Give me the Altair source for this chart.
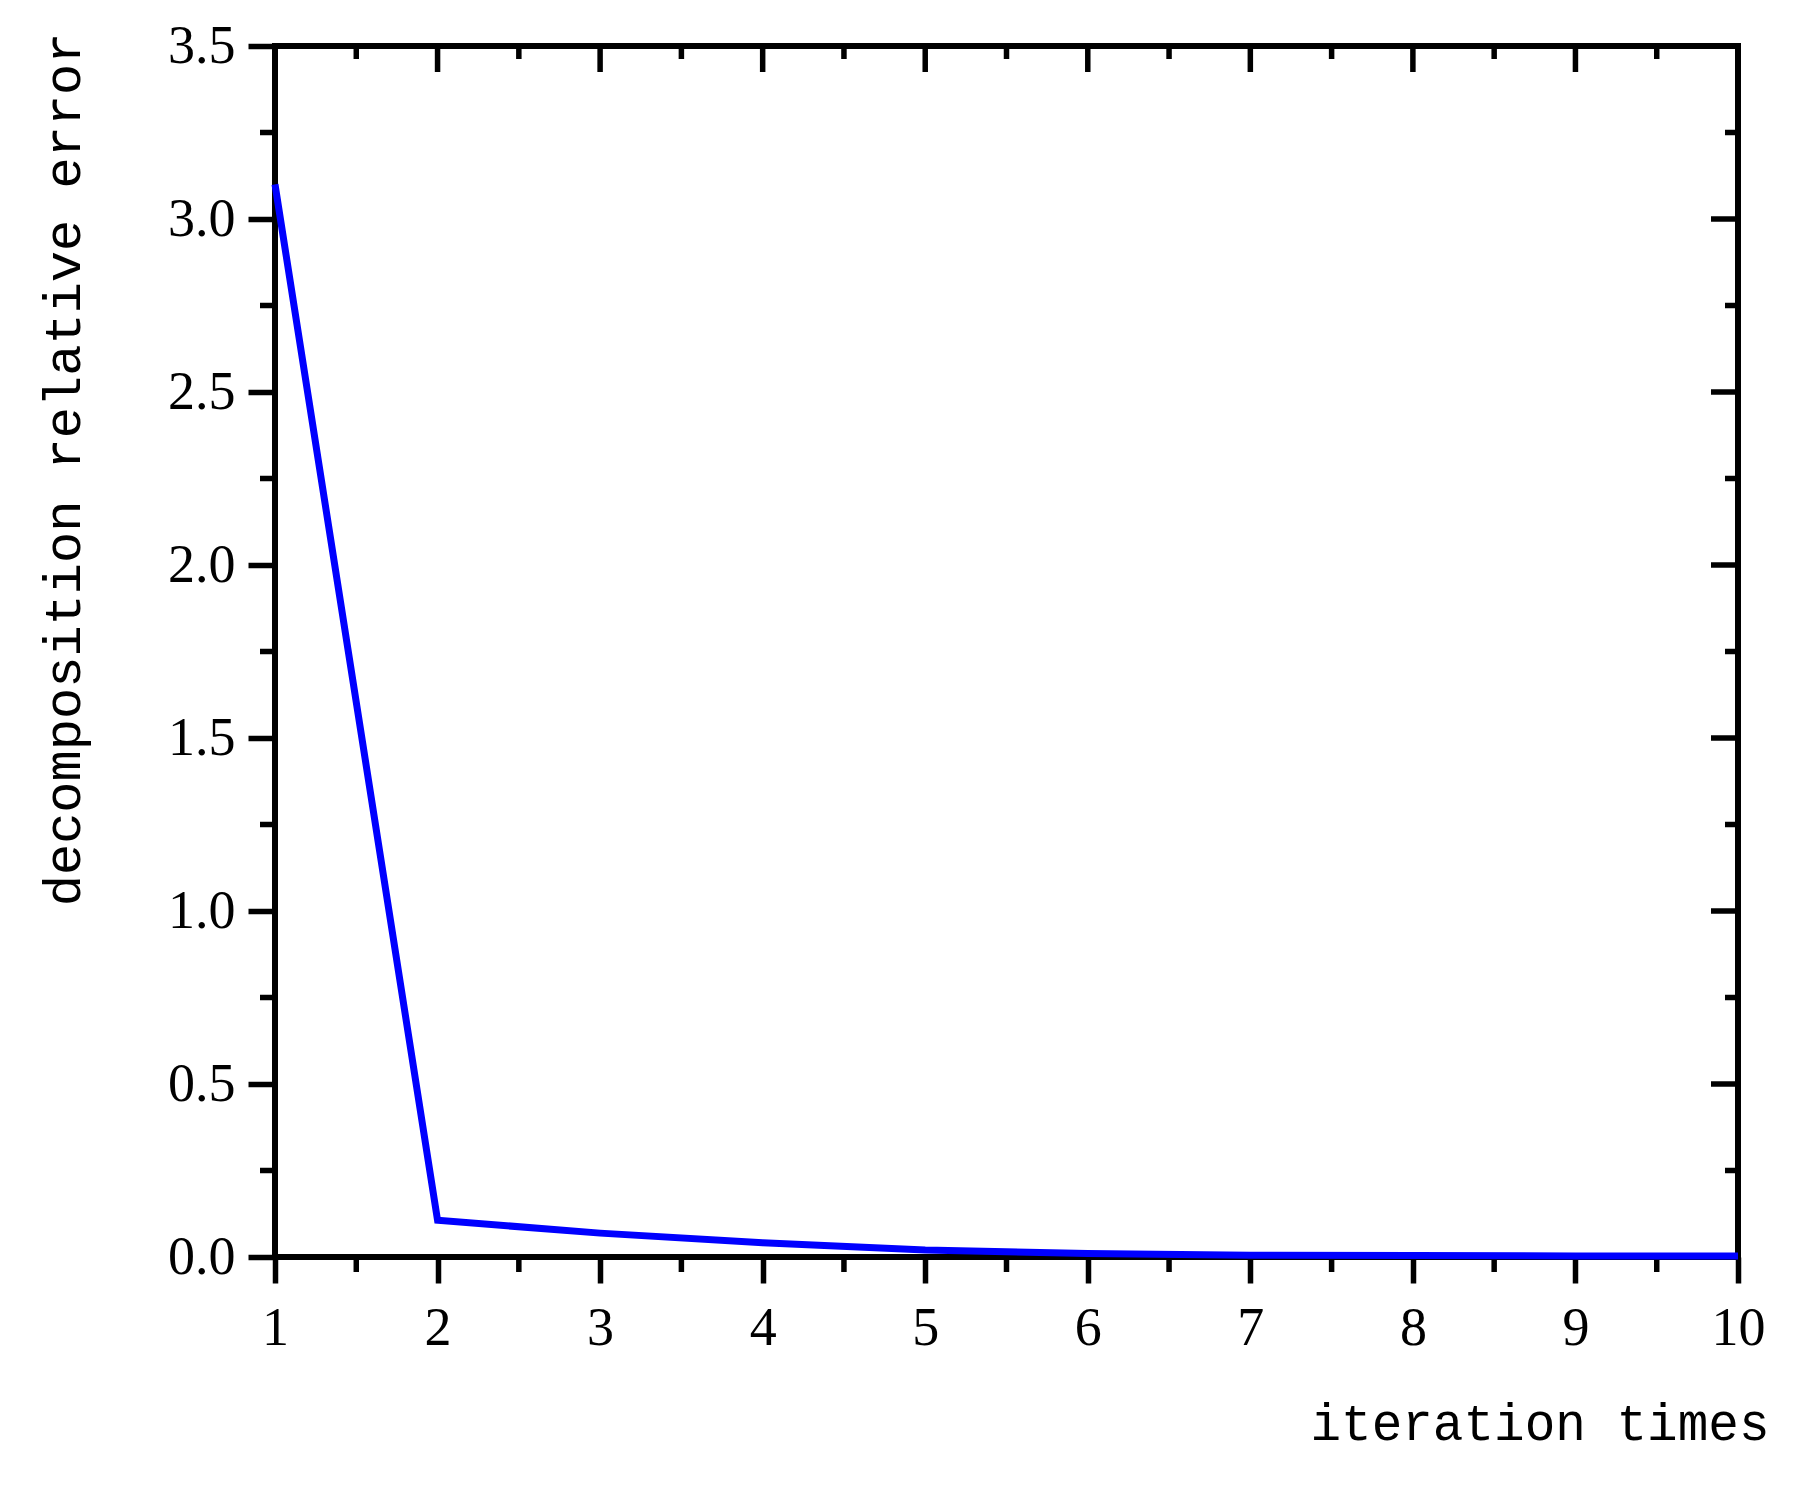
import altair as alt
import pandas as pd

# Data
iterations = [1, 2, 3, 4, 5, 6, 7, 8, 9, 10]
errors = [3.10, 0.106, 0.069, 0.041, 0.020, 0.010, 0.005, 0.004, 0.003, 0.003]

x_major = [1, 2, 3, 4, 5, 6, 7, 8, 9, 10]
x_minor = [1.5, 2.5, 3.5, 4.5, 5.5, 6.5, 7.5, 8.5, 9.5]
y_major = [0.0, 0.5, 1.0, 1.5, 2.0, 2.5, 3.0, 3.5]
y_minor = [0.25, 0.75, 1.25, 1.75, 2.25, 2.75, 3.25]

W, H = 1463, 1211
TW = 5.5  # tick width

df = pd.DataFrame({"iter": iterations, "err": errors})
xmaj = pd.DataFrame({"v": x_major})
xmin = pd.DataFrame({"v": x_minor})
ymaj = pd.DataFrame({"v": y_major})
ymin = pd.DataFrame({"v": y_minor})

xscale = alt.Scale(domain=[1, 10], nice=False, zero=False)
yscale = alt.Scale(domain=[0, 3.5], nice=False, zero=False)

xaxis = alt.Axis(
    values=x_major, format="d", grid=False, domain=False,
    tickSize=26, tickWidth=TW, tickColor="black",
    labelFont="Liberation Serif", labelFontSize=54, labelColor="black",
    labelPadding=18, labelFlush=False,
    title="iteration times", titleFont="Liberation Mono", titleFontSize=51,
    titleFontWeight="normal", titleColor="black",
    titleX=1494, titleY=182, titleAlign="right", titleBaseline="alphabetic",
)
yaxis = alt.Axis(
    values=y_major, format=".1f", grid=False, domain=False,
    tickSize=27, tickWidth=TW, tickColor="black",
    labelFont="Liberation Serif", labelFontSize=54, labelColor="black",
    labelPadding=13, labelFlush=False,
    title="decomposition relative error", titleFont="Liberation Mono",
    titleFontSize=52, titleFontWeight="normal", titleColor="black",
    titleAngle=-90, titleX=-212, titleY=-14, titleAlign="right",
    titleBaseline="middle",
)

line = alt.Chart(df).mark_line(color="#0000FF", strokeWidth=7).encode(
    x=alt.X("iter:Q", scale=xscale, axis=xaxis),
    y=alt.Y("err:Q", scale=yscale, axis=yaxis),
)

def xrule(data, y0, y1):
    return alt.Chart(data).mark_rule(color="black", strokeWidth=TW).encode(
        x=alt.X("v:Q", scale=xscale, axis=xaxis),
        y=alt.value(y0), y2=alt.value(y1),
    )

def yrule(data, x0, x1):
    return alt.Chart(data).mark_rule(color="black", strokeWidth=TW).encode(
        y=alt.Y("v:Q", scale=yscale, axis=yaxis),
        x=alt.value(x0), x2=alt.value(x1),
    )

layers = [
    xrule(xmaj, 0, 26),        # top major (inward)
    xrule(xmin, 0, 13),        # top minor (inward)
    xrule(xmin, H, H + 15),    # bottom minor (outward)
    yrule(ymaj, W, W - 27),    # right major (inward)
    yrule(ymin, W, W - 13),    # right minor (inward)
    yrule(ymin, 0, -15),       # left minor (outward)
    line,
]

chart = alt.layer(*layers).properties(
    width=W, height=H,
    autosize=alt.AutoSizeParams(type="none"),
    padding={"left": 267, "top": 38, "right": 50, "bottom": 220},
    background="white",
).configure_view(stroke="black", strokeWidth=6)

chart.save("out.html", embed_options={"renderer": "svg", "actions": False})
